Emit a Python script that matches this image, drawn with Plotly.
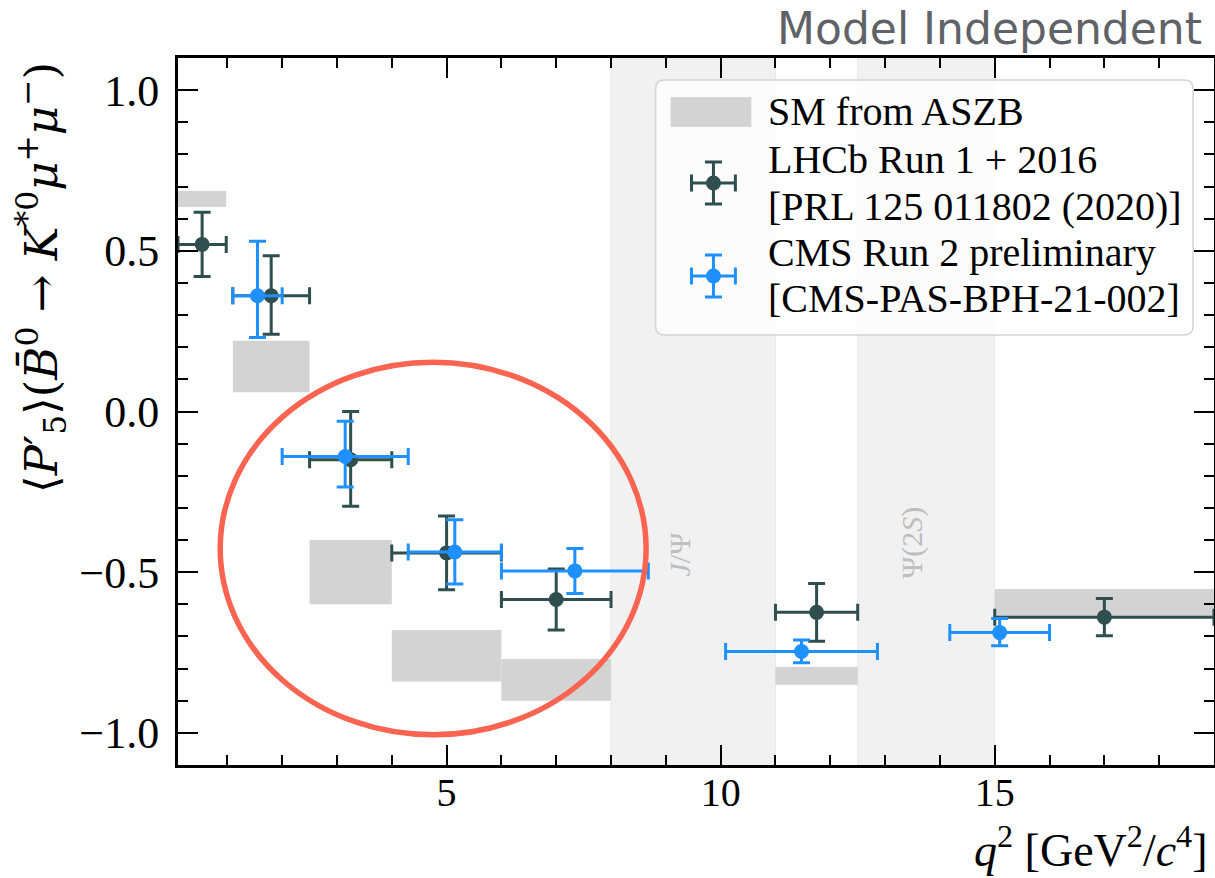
import plotly.graph_objects as go

# ---------------- data ----------------
# LHCb Run 1 + 2016
lhcb_x = [0.54, 1.80, 3.25, 5.00, 7.00, 11.75, 17.00]
lhcb_xlo = [0.10, 1.10, 2.50, 4.00, 6.00, 11.00, 15.00]
lhcb_xhi = [0.98, 2.50, 4.00, 6.00, 8.00, 12.50, 19.00]
lhcb_y = [0.52, 0.36, -0.15, -0.44, -0.585, -0.625, -0.64]
lhcb_eup = [0.10, 0.125, 0.15, 0.115, 0.095, 0.09, 0.058]
lhcb_edn = [0.10, 0.120, 0.145, 0.115, 0.095, 0.09, 0.058]

# CMS Run 2 preliminary
cms_x = [1.55, 3.15, 5.15, 7.34, 11.475, 15.09]
cms_xlo = [1.10, 2.00, 4.30, 6.00, 10.09, 14.18]
cms_xhi = [2.00, 4.30, 6.00, 8.68, 12.86, 16.00]
cms_y = [0.36, -0.14, -0.437, -0.496, -0.747, -0.688]
cms_eup = [0.17, 0.11, 0.10, 0.07, 0.036, 0.044]
cms_edn = [0.13, 0.095, 0.10, 0.07, 0.035, 0.041]

# SM from ASZB (bins and bands)
sm_xlo = [0.10, 1.10, 2.50, 4.00, 6.00, 11.00, 15.00]
sm_xhi = [0.98, 2.50, 4.00, 6.00, 8.00, 12.50, 19.00]
sm_ylo = [0.636, 0.06, -0.60, -0.84, -0.90, -0.85, -0.638]
sm_yhi = [0.686, 0.22, -0.40, -0.68, -0.77, -0.795, -0.552]

# charmonium vetoed regions
veto_lo = [8.0, 12.5]
veto_hi = [11.0, 15.0]
veto_labels = ["<i>J</i>/Ψ", "Ψ(2<i>S</i>)"]
veto_label_x = [9.24, 13.5]
veto_label_y = [-0.445, -0.41]

# highlight ellipse (data coords)
ellipse_x = [0.87, 8.64]
ellipse_y = [-1.006, 0.153]

x_ticks = [5, 10, 15]
y_ticks = [-1.0, -0.5, 0.0, 0.5, 1.0]

legend_texts = [
    "SM from ASZB",
    "LHCb Run 1 + 2016",
    "[PRL 125 011802 (2020)]",
    "CMS Run 2 preliminary",
    "[CMS-PAS-BPH-21-002]",
]

# ---------------- styling ----------------
C_LHCB = "#2F4F4F"
C_CMS = "#1E90FF"
C_SM = "#d3d3d3"
SERIF = "Liberation Serif"

# plot area in pixels (right spine sits just past the visible window edge)
L, R, T, B = 178, 1217, 58, 765
W, H = 1217, 878


def px2paper_x(px):
    return (px - L) / (R - L)


def px2paper_y(py):
    return (B - py) / (B - T)


fig = go.Figure()

# SM boxes
fig.add_trace(go.Bar(
    x=[(a + b) / 2 for a, b in zip(sm_xlo, sm_xhi)],
    y=[hi - lo for lo, hi in zip(sm_ylo, sm_yhi)],
    base=sm_ylo,
    width=[b - a for a, b in zip(sm_xlo, sm_xhi)],
    marker=dict(color=C_SM, line=dict(width=0)),
    showlegend=False, hoverinfo="skip",
))


def add_points(xs, xlo, xhi, ys, eup, edn, color, name):
    fig.add_trace(go.Scatter(
        x=xs, y=ys, mode="markers", name=name, showlegend=False,
        marker=dict(color=color, size=15),
        error_x=dict(type="data", symmetric=False,
                     array=[h - x for x, h in zip(xs, xhi)],
                     arrayminus=[x - l for x, l in zip(xs, xlo)],
                     color=color, thickness=3, width=8.5),
        error_y=dict(type="data", symmetric=False, array=eup, arrayminus=edn,
                     color=color, thickness=3, width=8.5),
    ))


add_points(lhcb_x, lhcb_xlo, lhcb_xhi, lhcb_y, lhcb_eup, lhcb_edn, C_LHCB, "LHCb")
add_points(cms_x, cms_xlo, cms_xhi, cms_y, cms_eup, cms_edn, C_CMS, "CMS")

shapes = []
for a, b in zip(veto_lo, veto_hi):
    shapes.append(dict(type="rect", xref="x", yref="paper", x0=a, x1=b, y0=0, y1=1,
                       fillcolor="#f1f1f1", line=dict(color="#e8e8e8", width=1),
                       layer="below"))

# legend frame (rounded rectangle, pixel -> paper)
lx0, lx1, ly0, ly1, rad = 657, 1196, 80, 335, 9
def P(x, y):
    return f"{px2paper_x(x):.5f},{px2paper_y(y):.5f}"
path = (f"M {P(lx0 + rad, ly0)} L {P(lx1 - rad, ly0)} Q {P(lx1, ly0)} {P(lx1, ly0 + rad)} "
        f"L {P(lx1, ly1 - rad)} Q {P(lx1, ly1)} {P(lx1 - rad, ly1)} "
        f"L {P(lx0 + rad, ly1)} Q {P(lx0, ly1)} {P(lx0, ly1 - rad)} "
        f"L {P(lx0, ly0 + rad)} Q {P(lx0, ly0)} {P(lx0 + rad, ly0)} Z")
shapes.append(dict(type="path", xref="paper", yref="paper", path=path,
                   fillcolor="rgba(255,255,255,0.8)", line=dict(color="#d4d4d4", width=1.5),
                   layer="below"))
# legend SM patch
shapes.append(dict(type="rect", xref="paper", yref="paper",
                   x0=px2paper_x(672), x1=px2paper_x(753),
                   y0=px2paper_y(127), y1=px2paper_y(97),
                   fillcolor=C_SM, line=dict(width=0), layer="below"))
# highlight ellipse
shapes.append(dict(type="circle", xref="x", yref="y",
                   x0=ellipse_x[0], x1=ellipse_x[1], y0=ellipse_y[0], y1=ellipse_y[1],
                   line=dict(color="#FA6450", width=5.5), layer="above"))

# legend glyphs on a pixel-coordinate overlay axis
for cy, col in [(183, C_LHCB), (276, C_CMS)]:
    fig.add_trace(go.Scatter(
        x=[715], y=[cy], xaxis="x2", yaxis="y2", mode="markers", showlegend=False,
        marker=dict(color=col, size=15), hoverinfo="skip",
        error_x=dict(type="constant", value=22, color=col, thickness=3, width=8.5),
        error_y=dict(type="constant", value=21, color=col, thickness=3, width=8.5),
    ))

annotations = []
for t, x, y in zip(veto_labels, veto_label_x, veto_label_y):
    annotations.append(dict(text=t, x=x, y=y, xref="x", yref="y", showarrow=False,
                            textangle=-90, font=dict(family=SERIF, size=30, color="#bdbdbd")))

legend_y_px = [112, 159, 206, 252, 298]
for t, py in zip(legend_texts, legend_y_px):
    annotations.append(dict(text=t, x=px2paper_x(768), y=px2paper_y(py), xref="paper", yref="paper",
                            xanchor="left", yanchor="middle", showarrow=False,
                            font=dict(family=SERIF, size=40, color="black")))

# axis titles (matplotlib style: top / right aligned)
annotations.append(dict(
    text="⟨<i>P</i>′<sub>5</sub>⟩(<i>B̄</i><sup>0</sup> → <i>K</i><sup>*0</sup><i>μ</i><sup>+</sup><i>μ</i><sup>−</sup>)",
    x=px2paper_x(40), y=px2paper_y(60), xref="paper", yref="paper",
    xanchor="center", yanchor="top", textangle=-90, showarrow=False,
    font=dict(family="DejaVu Serif", size=45, color="black")))
annotations.append(dict(
    text="<i>q</i><sup>2</sup> [GeV<sup>2</sup>/<i>c</i><sup>4</sup>]",
    x=px2paper_x(1213), y=px2paper_y(847), xref="paper", yref="paper",
    xanchor="right", yanchor="middle", showarrow=False,
    font=dict(family=SERIF, size=46, color="black")))
annotations.append(dict(
    text="Model Independent",
    x=px2paper_x(1207), y=px2paper_y(28), xref="paper", yref="paper",
    xanchor="right", yanchor="middle", showarrow=False,
    font=dict(family="DejaVu Sans", size=44, color="#5f6368")))

axis_common = dict(
    ticks="inside", ticklen=20, tickwidth=2, tickcolor="black",
    showline=True, linewidth=3, linecolor="black", mirror="allticks",
    showgrid=False, zeroline=False,
)

fig.update_layout(
    width=W, height=H,
    margin=dict(l=L, r=W - R, t=T, b=H - B),
    paper_bgcolor="white", plot_bgcolor="white",
    showlegend=False,
    xaxis=dict(range=[0.1, 19.0], tickmode="array", tickvals=x_ticks,
               ticklabelstandoff=-10,
               tickfont=dict(family=SERIF, size=40, color="black"),
               minor=dict(dtick=1, tick0=0, ticks="inside", ticklen=10, tickwidth=1.5,
                          tickcolor="black", showgrid=False),
               **axis_common),
    yaxis=dict(range=[-1.1, 1.1], tickmode="array", tickvals=y_ticks, tickformat=".1f",
               ticklabelstandoff=7,
               tickfont=dict(family=SERIF, size=44, color="black"),
               minor=dict(dtick=0.1, tick0=0, ticks="inside", ticklen=10, tickwidth=1.5,
                          tickcolor="black", showgrid=False),
               **axis_common),
    xaxis2=dict(overlaying="x", range=[L, R], visible=False, fixedrange=True),
    yaxis2=dict(overlaying="y", range=[B, T], visible=False, fixedrange=True),
    shapes=shapes,
    annotations=annotations,
)

fig.write_html(
    "out.html",
    config={"displayModeBar": False},
    post_script="document.body.style.margin='0';document.body.style.overflow='hidden';"
                "document.documentElement.style.overflow='hidden';",
)
